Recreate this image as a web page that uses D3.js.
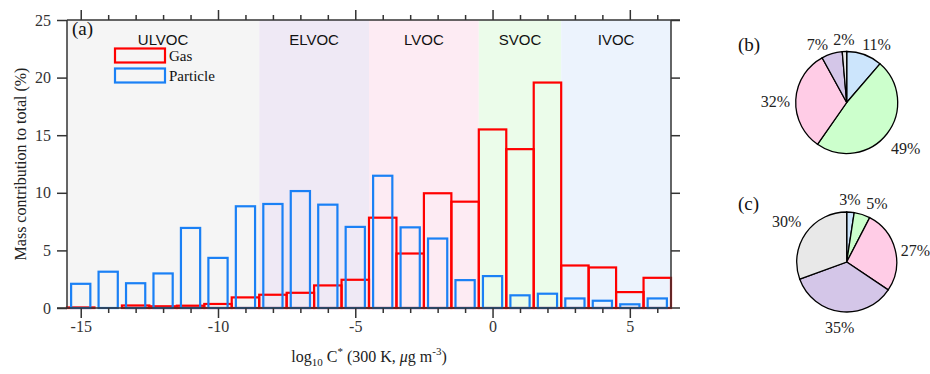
<!DOCTYPE html>
<html><head><meta charset="utf-8">
<script src="https://cdn.jsdelivr.net/npm/d3@7"></script>
<style>body{margin:0;background:#fff}</style>
</head><body>
<svg id="c" width="930" height="374"></svg>
<script>
// ---- data ----
const bins = d3.range(-15, 7); // log10 C* bin centres
const gas = [0.05,0.0,0.22,0.15,0.2,0.35,0.92,1.15,1.32,1.96,2.45,7.84,4.73,9.96,9.23,15.5,13.79,19.57,3.69,3.52,1.38,2.62];
const particle = [2.1,3.15,2.15,3.0,6.95,4.35,8.83,9.03,10.15,8.97,7.04,11.48,7.0,6.03,2.42,2.77,1.1,1.24,0.83,0.63,0.32,0.83];
const classNames = ["ULVOC","ELVOC","LVOC","SVOC","IVOC"];
const classBounds = [[-15.5,-8.5],[-8.5,-4.5],[-4.5,-0.5],[-0.5,2.5],[2.5,6.5]];
const xTicks = [-15,-10,-5,0,5];
const yTicks = [0,5,10,15,20,25];
// pies: slice order clockwise from 12 o'clock
const pieBClasses = ["IVOC","SVOC","LVOC","ELVOC","ULVOC"];
const pieBValues = [11.3,48.4,32.3,6.6,1.4];
const pieBLabels = ["11%","49%","32%","7%","2%"];
const pieCClasses = ["IVOC","SVOC","LVOC","ELVOC","ULVOC"];
const pieCValues = [2.4,5.2,26.8,35.0,30.6];
const pieCLabels = ["3%","5%","27%","35%","30%"];

(function(){
// ---- styles ----
const bandColor = {ULVOC:"#f5f5f5",ELVOC:"#efe9f5",LVOC:"#fdebf3",SVOC:"#ebfcea",IVOC:"#ecf3fd"};
const pieColor = {ULVOC:"#e8e8e8",ELVOC:"#d4c6e8",LVOC:"#ffcce6",SVOC:"#ccffcc",IVOC:"#cce5fc"};
const serif = "'Liberation Serif','Times New Roman',serif";
const sans = "'Liberation Sans',Arial,sans-serif";
const axisCol = "#333";

const svg = d3.select("#c");
const L=67, R=671, T=20, B=308;
const x = d3.scaleLinear().domain([-15.5,6.5]).range([L,R]);
const y = d3.scaleLinear().domain([0,25]).range([B,T]);

// bands
svg.selectAll("rect.band").data(classNames).enter().append("rect")
  .attr("x",(d,i)=>x(classBounds[i][0])).attr("width",(d,i)=>x(classBounds[i][1])-x(classBounds[i][0]))
  .attr("y",T).attr("height",B-T).attr("fill",d=>bandColor[d]);
svg.selectAll("text.band").data(classNames).enter().append("text")
  .attr("x",(d,i)=>x((classBounds[i][0]+classBounds[i][1])/2)).attr("y",45)
  .attr("text-anchor","middle").attr("font-family",sans).attr("font-size",15).attr("fill","#111").text(d=>d);

// gas bars
svg.selectAll("rect.gas").data(bins).enter().append("rect")
  .attr("x",d=>x(d-0.5)).attr("width",x(1)-x(0))
  .attr("y",(d,i)=>y(gas[i])).attr("height",(d,i)=>y(0)-y(gas[i]))
  .attr("fill","none").attr("stroke","#ff0000").attr("stroke-width",2.2);
// particle bars
svg.selectAll("rect.par").data(bins).enter().append("rect")
  .attr("x",d=>x(d-0.35)).attr("width",x(0.7)-x(0))
  .attr("y",(d,i)=>y(particle[i])).attr("height",(d,i)=>y(0)-y(particle[i]))
  .attr("fill","none").attr("stroke","#1a80f5").attr("stroke-width",2.2);

// axes
const gBottom = svg.append("g").attr("transform",`translate(0,${B})`)
  .call(d3.axisBottom(x).tickValues(bins).tickSize(5).tickSizeOuter(0).tickPadding(8)
    .tickFormat(d=>xTicks.includes(d)?String(d):""));
const gTop = svg.append("g").attr("transform",`translate(0,${T})`)
  .call(d3.axisTop(x).tickValues(bins).tickSize(5).tickSizeOuter(0).tickFormat(""));
[gBottom,gTop].forEach((g,k)=>{
  g.selectAll(".tick line").filter(d=>xTicks.includes(d)).attr("y2",k===0?10:-10);
});
const gLeft = svg.append("g").attr("transform",`translate(${L},0)`)
  .call(d3.axisLeft(y).tickValues(yTicks).tickSize(10).tickSizeOuter(0).tickPadding(6).tickFormat(d=>String(d)));
const gRight = svg.append("g").attr("transform",`translate(${R},0)`)
  .call(d3.axisRight(y).tickValues(yTicks.slice(1)).tickSize(9).tickSizeOuter(0).tickFormat(""));
[gBottom,gTop,gLeft,gRight].forEach(g=>{
  g.select(".domain").remove();
  g.selectAll(".tick line").attr("stroke",axisCol).attr("stroke-width",1.5);
  g.selectAll(".tick text").attr("font-family",serif).attr("font-size",16).attr("fill",axisCol);
});
// frame
const fr = svg.append("g").attr("stroke",axisCol).attr("stroke-width",1.5);
fr.append("line").attr("x1",L-10).attr("x2",R+9).attr("y1",B).attr("y2",B);
fr.append("line").attr("x1",L).attr("x2",R+9).attr("y1",T).attr("y2",T);
fr.append("line").attr("x1",L).attr("x2",L).attr("y1",T).attr("y2",B);
fr.append("line").attr("x1",R).attr("x2",R).attr("y1",T).attr("y2",B);

// legend
const leg = svg.append("g");
leg.append("rect").attr("x",115).attr("y",48.5).attr("width",50).attr("height",14)
  .attr("fill","none").attr("stroke","#ff0000").attr("stroke-width",2.2);
leg.append("rect").attr("x",115).attr("y",68.5).attr("width",50).attr("height",14)
  .attr("fill","none").attr("stroke","#1a80f5").attr("stroke-width",2.2);
leg.append("text").attr("x",169).attr("y",61).attr("font-family",serif).attr("font-size",15).attr("fill","#111").text("Gas");
leg.append("text").attr("x",169).attr("y",81).attr("font-family",serif).attr("font-size",15).attr("fill","#111").text("Particle");

// panel labels & axis titles
svg.append("text").attr("x",72).attr("y",35).attr("font-family",serif).attr("font-size",19).attr("fill","#111").text("(a)");
svg.append("text").attr("transform",`translate(26,${(T+B)/2}) rotate(-90)`).attr("text-anchor","middle")
  .attr("font-family",serif).attr("font-size",16).attr("fill","#222").text("Mass contribution to total (%)");
const xl = svg.append("text").attr("x",(L+R)/2).attr("y",362).attr("text-anchor","middle")
  .attr("font-family",serif).attr("font-size",16).attr("fill","#222");
xl.append("tspan").text("log");
xl.append("tspan").attr("font-size",11).attr("dy",4).text("10");
xl.append("tspan").attr("dy",-4).text(" C");
xl.append("tspan").attr("font-size",11).attr("dy",-7).text("*");
xl.append("tspan").attr("dy",7).text(" (300 K, ");
xl.append("tspan").attr("font-style","italic").text("\u03bc");
xl.append("tspan").text("g m");
xl.append("tspan").attr("font-size",11).attr("dy",-7).text("-3");
xl.append("tspan").attr("dy",7).text(")");

// pies
function drawPie(cx, cy, r, classes, values, labels, labelPos, tag, tagPos){
  const pie = d3.pie().sort(null).value(d=>d)(values);
  const arc = d3.arc().innerRadius(0).outerRadius(r);
  const g = svg.append("g").attr("transform",`translate(${cx},${cy})`);
  g.selectAll("path").data(pie).enter().append("path").attr("d",arc)
    .attr("fill",(d,i)=>pieColor[classes[i]]).attr("stroke","#000").attr("stroke-width",1.3);
  labels.forEach((t,i)=>{
    svg.append("text").attr("x",labelPos[i][0]).attr("y",labelPos[i][1]).attr("text-anchor","middle")
      .attr("font-family",serif).attr("font-size",16).attr("fill","#222").text(t);
  });
  svg.append("text").attr("x",tagPos[0]).attr("y",tagPos[1]).attr("text-anchor","middle")
    .attr("font-family",serif).attr("font-size",19).attr("fill","#111").text(tag);
}
drawPie(846.7,102.5,51,pieBClasses,pieBValues,pieBLabels,
  [[876.5,50],[905.7,154],[775.5,107],[817.5,50],[844,45]],"(b)",[749,51]);
drawPie(846.7,262,50,pieCClasses,pieCValues,pieCLabels,
  [[850,205],[877,209],[915.5,256],[839.7,333],[786.7,227]],"(c)",[748.5,210]);
})();
</script>
</body></html>
